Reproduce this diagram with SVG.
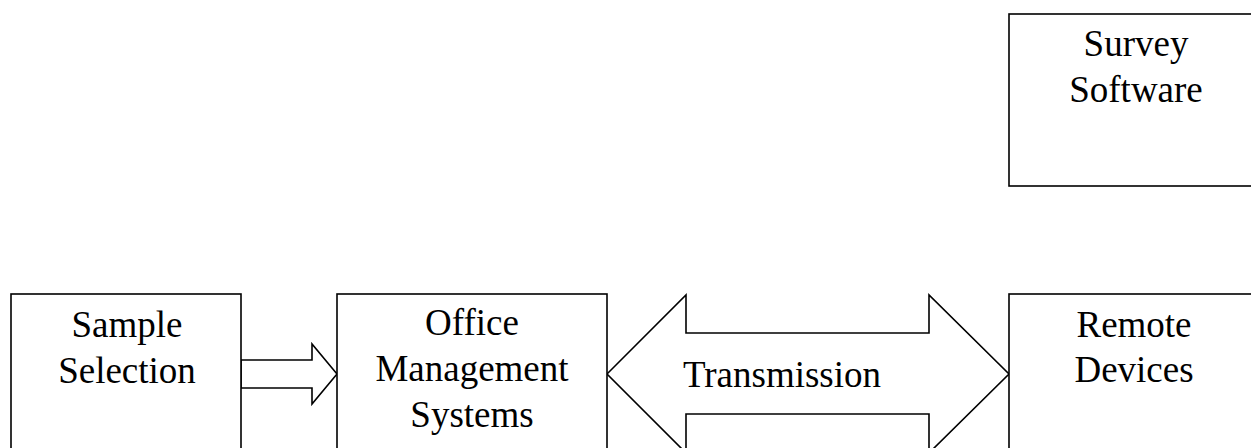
<svg xmlns="http://www.w3.org/2000/svg" width="1251" height="448" viewBox="0 0 1251 448">
  <style>
    .box { fill: #ffffff; stroke: #000000; stroke-width: 1.6; }
    .arrow { fill: #ffffff; stroke: #000000; stroke-width: 1.6; stroke-linejoin: miter; }
    .label { font-family: "Liberation Serif", "Times New Roman", serif; font-size: 37px; fill: #000000; text-anchor: middle; }
  </style>
  <rect x="0" y="0" width="1251" height="448" fill="#ffffff"/>

  <!-- block arrows between the stages -->
  <g id="connectors">
    <polygon class="arrow" points="241,360 312,360 312,344 337,374 312,404 312,388 241,388"/>
    <polygon class="arrow" points="607,374 686,295 686,333 929,333 929,295 1009,374 929,453 929,414 686,414 686,453"/>
    <text class="label" x="782" y="387">Transmission</text>
  </g>

  <g id="survey-software">
    <rect class="box" x="1009" y="14" width="260" height="172"/>
    <text class="label" x="1136" y="56">Survey</text>
    <text class="label" x="1136" y="102">Software</text>
  </g>

  <g id="sample-selection">
    <rect class="box" x="11" y="294" width="230" height="180"/>
    <text class="label" x="127" y="337">Sample</text>
    <text class="label" x="127" y="383">Selection</text>
  </g>

  <g id="office-management-systems">
    <rect class="box" x="337" y="294" width="270" height="180"/>
    <text class="label" x="472" y="335">Office</text>
    <text class="label" x="472" y="381">Management</text>
    <text class="label" x="472" y="427">Systems</text>
  </g>

  <g id="remote-devices">
    <rect class="box" x="1009" y="294" width="260" height="180"/>
    <text class="label" x="1134" y="337">Remote</text>
    <text class="label" x="1134" y="382">Devices</text>
  </g>
</svg>
